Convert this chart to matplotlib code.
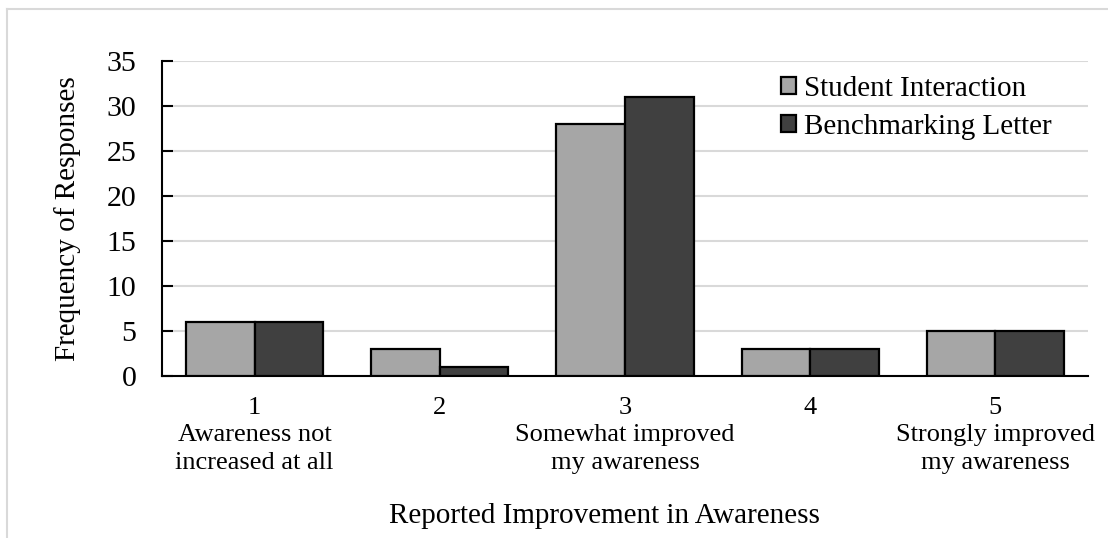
import numpy as np
import matplotlib.pyplot as plt
from matplotlib.lines import Line2D

plt.rcParams['font.family'] = ['Liberation Serif', 'DejaVu Serif']
plt.rcParams['font.size'] = 21

# 数据
levels = ['1', '2', '3', '4', '5']
level_desc = ['Awareness not\nincreased at all', '', 'Somewhat improved\nmy awareness', '',
              'Strongly improved\nmy awareness']
student_interaction = [6, 3, 28, 3, 5]
benchmarking_letter = [6, 1, 31, 3, 5]
series_names = ['Student Interaction', 'Benchmarking Letter']
y_ticks = [0, 5, 10, 15, 20, 25, 30, 35]

fig = plt.figure(figsize=(11.08, 5.38), dpi=100)
ax = fig.add_axes([162 / 1108, 1 - 376 / 538, (1088 - 162) / 1108, (376 - 61) / 538])

x = np.arange(len(levels))
w = 0.37
ax.bar(x - w / 2, student_interaction, w, color='#a6a6a6', edgecolor='black', linewidth=1.6,
       label=series_names[0], zorder=3)
ax.bar(x + w / 2, benchmarking_letter, w, color='#404040', edgecolor='black', linewidth=1.6,
       label=series_names[1], zorder=3)

ax.set_xlim(-0.5, len(levels) - 0.5)
ax.set_ylim(0, 35)
ax.set_yticks(y_ticks)
ax.yaxis.grid(True, color='#d9d9d9', linewidth=1.5, zorder=0)
ax.set_axisbelow(True)

# 刻度标签：数字 + 说明文字
ax.set_xticks(x)
ax.set_xticklabels([f'{a}\n{b}' if b else a for a, b in zip(levels, level_desc)],
                   fontsize=19, linespacing=1.32)
ax.tick_params(axis='x', length=0, pad=15)
ax.tick_params(axis='y', direction='in', length=8, width=1.5, pad=18.5, labelsize=21.5)

for s in ['top', 'right']:
    ax.spines[s].set_visible(False)
ax.spines['left'].set_linewidth(1.5)
ax.spines['bottom'].set_linewidth(1.5)

ax.set_ylabel('Frequency of Responses')
ax.yaxis.set_label_coords((81 - 162) / 926, 0.5)
ax.set_xlabel('Reported Improvement in Awareness', va='top')
ax.xaxis.set_label_coords((604 - 162) / 926, (376 - 503) / 315)

ax.legend(loc='center left', bbox_to_anchor=(741 / 1108, 1 - 80 / 538), frameon=False,
          borderpad=0, borderaxespad=0, handlelength=0.52, handleheight=0.52,
          handletextpad=0.25, labelspacing=0.43, fontsize=21)

# 外框（上、左）
fig.add_artist(Line2D([7 / 1108, 1], [1 - 9 / 538, 1 - 9 / 538], color='#d9d9d9', lw=1.5))
fig.add_artist(Line2D([7 / 1108, 7 / 1108], [0, 1 - 9 / 538], color='#d9d9d9', lw=1.5))

fig.savefig('out.png', dpi=100)
